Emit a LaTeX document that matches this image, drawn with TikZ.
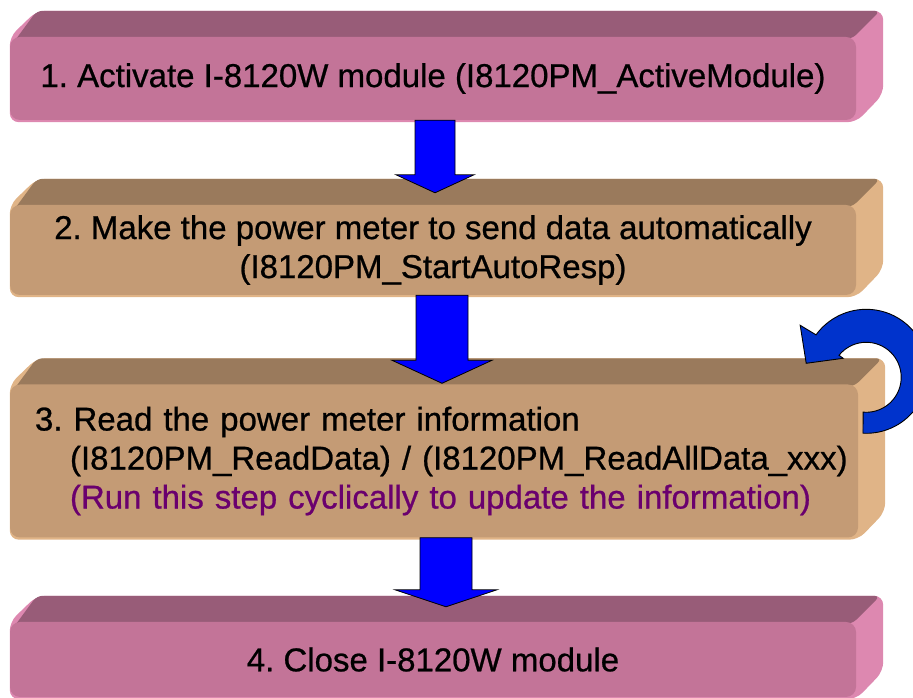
\documentclass[tikz,border=0pt]{standalone}
\usepackage{fontspec}
\setmainfont[FakeBold=0.6]{Liberation Sans}
\newfontfamily\boxfont[FakeBold=0.7]{Liberation Sans}
\usetikzlibrary{calc}
\pgfdeclarelayer{back}
\pgfsetlayers{back,main}
\definecolor{pinkfront}{HTML}{C37498}
\definecolor{pinktop}{HTML}{985C78}
\definecolor{pinkside}{HTML}{DD88B0}
\definecolor{tanfront}{HTML}{C49B75}
\definecolor{tantop}{HTML}{9A7A5C}
\definecolor{tanside}{HTML}{E0B487}
\definecolor{arrowblue}{HTML}{0000FF}
\definecolor{loopblue}{HTML}{0033CC}
\definecolor{notepurple}{HTML}{6A006E}
\tikzset{
  frontface/.style={rounded corners=10pt, inner sep=0pt, font=\boxfont\frenchspacing\fontsize{33}{39}\selectfont, align=center},
  barrow/.style={fill=arrowblue, draw=black, line width=0.8pt, line join=miter},
  loopar/.style={fill=loopblue, draw=black, line width=0.9pt, line join=miter},
}
% 3D top and side faces behind a front node
\newcommand\boxfaces[3]{%
  \begin{pgfonlayer}{back}
  \fill[#3, rounded corners=9pt] (#1.north west) -- ($(#1.north west)+(27,26)$) -- ($(#1.north east)+(27,26)$) -- ($(#1.south east)+(27,26)$) -- ($(#1.south east)+(0,-2)$) -- ($(#1.south west)+(0,-2)$) -- cycle;
  \fill[#2, rounded corners=6pt] ($(#1.north west)+(2,-8)$) -- ($(#1.north west)+(27,26)$) -- ($(#1.north east)+(24,26)$) -- ($(#1.north east)+(-4,-2)$) -- cycle;
  \end{pgfonlayer}}
% block arrow: from node, to node, x offset, shaft half width, head half width, tip above to.north, head length
\newcommand\blockarrow[7]{%
  \filldraw[barrow] let \p1=($(#1.south)+(#3,0)$), \p2=($(#2.north)+(#3,#6)$) in
    (\x1-#4pt,\y1) -- (\x1-#4pt,\y2+#7pt) -- (\x1-#5pt,\y2+#7pt) -- (\x1,\y2)
    -- (\x1+#5pt,\y2+#7pt) -- (\x1+#4pt,\y2+#7pt) -- (\x1+#4pt,\y1) -- cycle;}
\begin{document}
\begin{tikzpicture}[x=1pt,y=1pt]
\useasboundingbox (0,0) rectangle (913,698);
\clip (0,0) rectangle (913,698);

\node[frontface, fill=pinkfront, minimum width=846pt, minimum height=83pt] (b1) at (433,619.5)
  {1. Activate I-8120W module (I8120PM\_ActiveModule)};
\node[frontface, fill=tanfront, minimum width=846pt, minimum height=90pt] (b2) at (433,448)
  {2. Make the power meter to send data automatically\\(I8120PM\_StartAutoResp)};
\node[frontface, fill=tanfront, minimum width=848pt, minimum height=153pt, text width=798pt, align=left] (b3) at (434,237)
  {3. Read the power meter information\\
   \hspace*{35pt}(I8120PM\_ReadData) / (I8120PM\_ReadAllData\_xxx)\\
   \hspace*{35pt}\textcolor{notepurple}{(Run this step cyclically to update the information)}};
\node[frontface, fill=pinkfront, minimum width=846pt, minimum height=75pt] (b4) at (433,38.5)
  {4. Close I-8120W module};

\boxfaces{b1}{pinktop}{pinkside}
\boxfaces{b2}{tantop}{tanside}
\boxfaces{b3}{tantop}{tanside}
\boxfaces{b4}{pinktop}{pinkside}

\blockarrow{b1}{b2}{2}{20}{39}{12}{18}
\blockarrow{b2}{b3}{9}{26}{50}{1}{23}
\blockarrow{b3}{b4}{12}{26}{51}{15}{17}

% loop arrow on step 3
\coordinate (loopc) at ($(b3.north east)+(8,13)$);
\coordinate (loopi) at ($(b3.north east)+(8,7)$);
\filldraw[loopar] (loopc) ++(-93:62pt) arc[start angle=-93, end angle=144, radius=62pt]
  -- ($(loopc)+(-66,46)$) -- ($(loopc)+(-60,8)$) -- ($(loopc)+(-23,13)$)
  -- ($(loopi)+(141:35pt)$) arc[start angle=141, end angle=-95, radius=35pt] -- cycle;
\end{tikzpicture}
\end{document}
